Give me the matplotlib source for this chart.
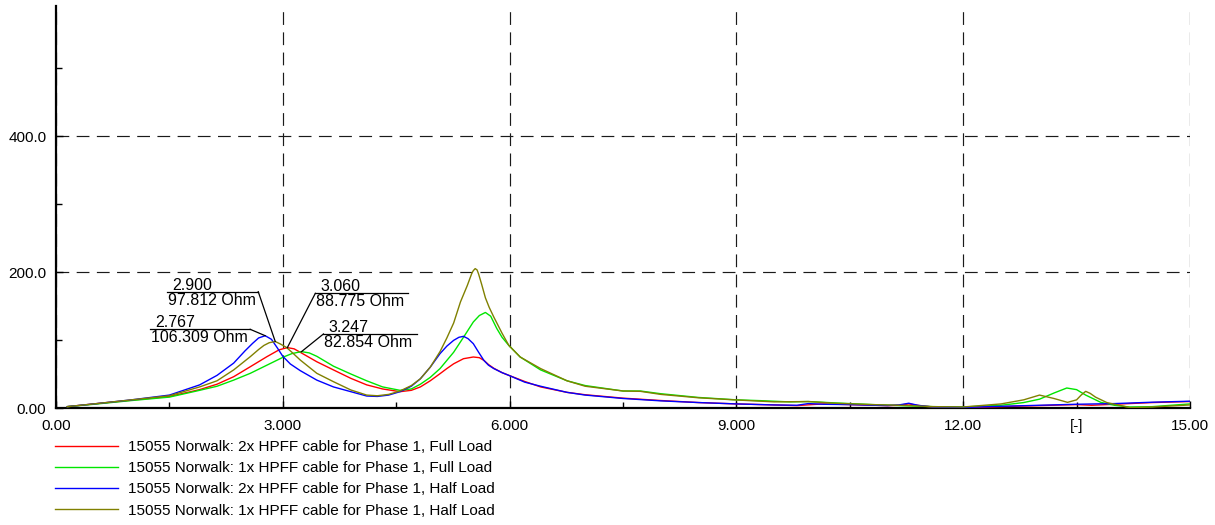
import matplotlib
matplotlib.use("Agg")
import matplotlib.pyplot as plt
from matplotlib.transforms import Affine2D, ScaledTranslation

plt.rcParams['font.family'] = ['Liberation Sans', 'DejaVu Sans']

# ---------------- data ----------------
labels = [
    "15055 Norwalk: 2x HPFF cable for Phase 1, Full Load",
    "15055 Norwalk: 1x HPFF cable for Phase 1, Full Load",
    "15055 Norwalk: 2x HPFF cable for Phase 1, Half Load",
    "15055 Norwalk: 1x HPFF cable for Phase 1, Half Load",
]
colors = ["#FF0000", "#00E600", "#0000FF", "#808000"]

h_red = [0.15, 0.5, 1.0, 1.5, 1.9, 2.13, 2.35, 2.57, 2.79, 2.95,
         3.06, 3.15, 3.23, 3.45, 3.67, 3.9, 4.11, 4.32, 4.55, 4.7,
         4.82, 4.95, 5.08, 5.17, 5.26, 5.39, 5.52, 5.6, 5.66, 5.72,
         5.79, 5.9, 5.99, 6.2, 6.41, 6.76, 7.0, 7.5, 8.0, 8.5,
         9.0, 9.5, 9.8, 10.0, 10.15, 10.5, 11.0, 11.15, 11.28, 11.45,
         11.6, 12.0, 12.5, 13.0, 13.5, 13.7, 14.0, 14.5, 15.0]
z_red = [2, 6, 11.5, 17, 27, 35, 46, 60.7, 75.5, 85.5,
         88.8, 87, 82, 68, 56, 43.6, 34, 28, 24, 26,
         31, 40, 50.5, 58, 65, 72.5, 75, 74, 70, 64,
         58.5, 52, 48, 39, 31, 23, 19.5, 14.5, 11, 8,
         6, 4.5, 3.5, 5, 6, 5, 3.5, 4, 6, 3,
         1.5, 0.5, 2, 3.5, 5, 4, 5.5, 8, 9.5]

h_grn = [0.15, 0.5, 1.0, 1.5, 1.9, 2.13, 2.35, 2.57, 2.79, 3.01,
         3.12, 3.247, 3.35, 3.45, 3.67, 3.9, 4.11, 4.32, 4.55, 4.7,
         4.82, 4.95, 5.08, 5.17, 5.26, 5.39, 5.52, 5.6, 5.68, 5.75,
         5.83, 5.9, 5.99, 6.14, 6.41, 6.76, 7.0, 7.5, 7.73, 8.0,
         8.5, 9.0, 9.32, 9.7, 9.95, 10.3, 10.8, 11.3, 11.6, 12.0,
         12.5, 12.8, 13.01, 13.2, 13.37, 13.5, 13.62, 13.82, 14.0, 14.2,
         14.5, 15.0]
z_grn = [2, 5.5, 11, 16, 26, 32, 41, 51, 63, 75,
         80, 82.9, 81, 76, 61.5, 50, 40, 31, 26, 28,
         35, 45, 58, 70, 82, 104, 126.5, 136, 140.5, 135,
         117, 104, 92, 75, 56, 40, 33, 25, 25, 21,
         15.5, 12, 10.8, 9, 9.5, 7.5, 5, 3, 2, 1.5,
         4, 8, 13, 22, 29.4, 27, 19, 8.3, 4, 1.5,
         2, 6]

h_blu = [0.15, 0.5, 1.0, 1.5, 1.9, 2.13, 2.35, 2.5, 2.6, 2.68,
         2.767, 2.85, 2.93, 3.0, 3.1, 3.23, 3.45, 3.67, 3.9, 4.11,
         4.25, 4.4, 4.55, 4.7, 4.82, 4.95, 5.08, 5.17, 5.26, 5.33,
         5.39, 5.45, 5.52, 5.59, 5.66, 5.72, 5.79, 5.9, 5.99, 6.2,
         6.41, 6.76, 7.0, 7.5, 8.0, 8.5, 9.0, 9.5, 9.8, 9.95,
         10.15, 10.5, 11.0, 11.15, 11.28, 11.4, 11.6, 12.0, 12.5, 13.0,
         13.5, 14.0, 14.5, 15.0]
z_blu = [2, 6, 12, 19, 34, 48, 66, 84, 95, 103,
         106.3, 101, 88, 76, 64.7, 55, 41, 31, 24, 17.6,
         17, 19, 24, 32, 43, 60, 80, 91, 99.5, 104,
         105.4, 102, 94.6, 82, 70, 63, 58, 52, 48, 38,
         32, 23, 19, 14, 10.5, 8, 6, 4.5, 4, 6.5,
         5.5, 5, 3.5, 4.5, 7, 4, 1.5, 0.8, 2.5, 4,
         5.5, 6.5, 8.5, 10]

h_olv = [0.15, 0.5, 1.0, 1.5, 1.9, 2.13, 2.35, 2.57, 2.68, 2.75,
         2.82, 2.9, 2.97, 3.05, 3.13, 3.23, 3.45, 3.67, 3.9, 4.11,
         4.25, 4.4, 4.55, 4.7, 4.82, 4.95, 5.08, 5.17, 5.26, 5.35,
         5.44, 5.5, 5.52, 5.545, 5.57, 5.59, 5.63, 5.68, 5.73, 5.79,
         5.9, 5.99, 6.14, 6.41, 6.76, 7.0, 7.5, 7.73, 8.0, 8.5,
         9.0, 9.5, 9.95, 10.3, 10.8, 11.3, 11.6, 12.0, 12.5, 12.8,
         13.01, 13.2, 13.38, 13.5, 13.56, 13.62, 13.68, 13.75, 13.9, 14.21,
         14.5, 15.0]
z_olv = [2, 6, 12, 18, 31, 40, 56, 75.5, 86, 92,
         96, 97.8, 94, 89, 81, 70.6, 51, 38.7, 26.5, 19,
         18, 20, 25, 33, 43, 60, 83, 103, 125, 156,
         180, 198, 202, 205, 203, 197, 182, 162, 148, 134,
         110, 92, 75, 58, 40, 32, 25, 24.5, 20, 15,
         11.8, 9, 9.5, 7, 5, 3.5, 2, 1.5, 6, 12,
         19, 14, 8.3, 12, 19, 24.5, 21.5, 16, 8, 0.5,
         1.5, 4.5]

x_ticks = [0, 3, 6, 9, 12, 15]
x_ticklabels = ["0.00", "3.000", "6.000", "9.000", "12.00", "15.00"]
x_minor = [1.5, 4.5, 7.5, 10.5, 13.5]
x_minor_labels = ["", "", "", "", "[-]"]
y_ticks = [0, 200, 400]
y_ticklabels = ["0.00", "200.0", "400.0"]
y_minor = [100, 300, 500]

# annotated peaks: (harmonic, impedance)
peak_h = [2.900, 2.767, 3.060, 3.247]
peak_z = [97.812, 106.309, 88.775, 82.854]

# ---------------- figure ----------------
W, H = 1215, 525
fig = plt.figure(figsize=(W / 100, H / 100), dpi=100)
L, R, T, B = 56, 1190, 6, 408
ax = fig.add_axes([L / W, 1 - B / H, (R - L) / W, (B - T) / H])

series = [(h_red, z_red), (h_grn, z_grn), (h_blu, z_blu), (h_olv, z_olv)]
handles = []
for (hx, zy), c, lab in zip(series, colors, labels):
    ln, = ax.plot(hx, zy, color=c, lw=1.0, label=lab, solid_joinstyle='round', zorder=3)
    handles.append(ln)

ax.set_xlim(0, 15)
ax.set_ylim(0, (B - T) / 0.68)

for s in ["top", "right"]:
    ax.spines[s].set_visible(False)
for s in ["left", "bottom"]:
    ax.spines[s].set_linewidth(1.6)
    ax.spines[s].set_color("black")

ax.set_xticks(x_ticks)
ax.set_xticklabels(x_ticklabels)
ax.set_xticks(x_minor, minor=True)
ax.set_xticklabels(x_minor_labels, minor=True)
ax.set_yticks(y_ticks)
ax.set_yticklabels(y_ticklabels)
ax.set_yticks(y_minor, minor=True)

ax.tick_params(which="major", direction="in", length=5, width=1, labelsize=11, colors="black")
ax.tick_params(which="minor", direction="in", length=4, width=1, labelsize=11, colors="black")
ax.tick_params(axis="x", which="both", pad=8)
ax.tick_params(axis="y", which="both", pad=7)

ax.set_axisbelow(True)
ax.grid(which="major", color="#1a1a1a", lw=0.85, linestyle=(0, (10.8, 6.3)))

# ---------------- annotations ----------------
ann_layout = [
    (-17, 49.8, 91, "left"),
    (-15, 6.4, 100, "left"),
    (28, 54.3, 93, "right"),
    (22, 17.7, 94, "right"),
]
for hp, zp, (axp, ayp, length, side) in zip(peak_h, peak_z, ann_layout):
    tr = Affine2D().scale(fig.dpi / 100) + ScaledTranslation(hp, zp, ax.transData)
    ax.plot([0, axp], [0, ayp], transform=tr, color="black", lw=0.9, zorder=5)
    if side == "left":
        x0, x1 = axp - length, axp
    else:
        x0, x1 = axp, axp + length
    ax.plot([x0, x1], [ayp, ayp], transform=tr, color="black", lw=0.9, zorder=5)
    ax.text(x0 + 5, ayp + 2, f"{hp:.3f}", transform=tr, ha="left", va="baseline",
            fontsize=11.5, zorder=6)
    ax.text(x0 + 1, ayp - 1, f"{zp:.3f} Ohm", transform=tr, ha="left", va="top",
            fontsize=11.5, zorder=6)

# ---------------- legend ----------------
fig.legend(handles=handles, labels=labels, loc="upper left",
           bbox_to_anchor=(55 / W, 1 - 440 / H), frameon=False, fontsize=11,
           handlelength=4.1, handletextpad=0.65, labelspacing=0.47,
           borderpad=0, borderaxespad=0)

fig.savefig("out.png", dpi=100)
